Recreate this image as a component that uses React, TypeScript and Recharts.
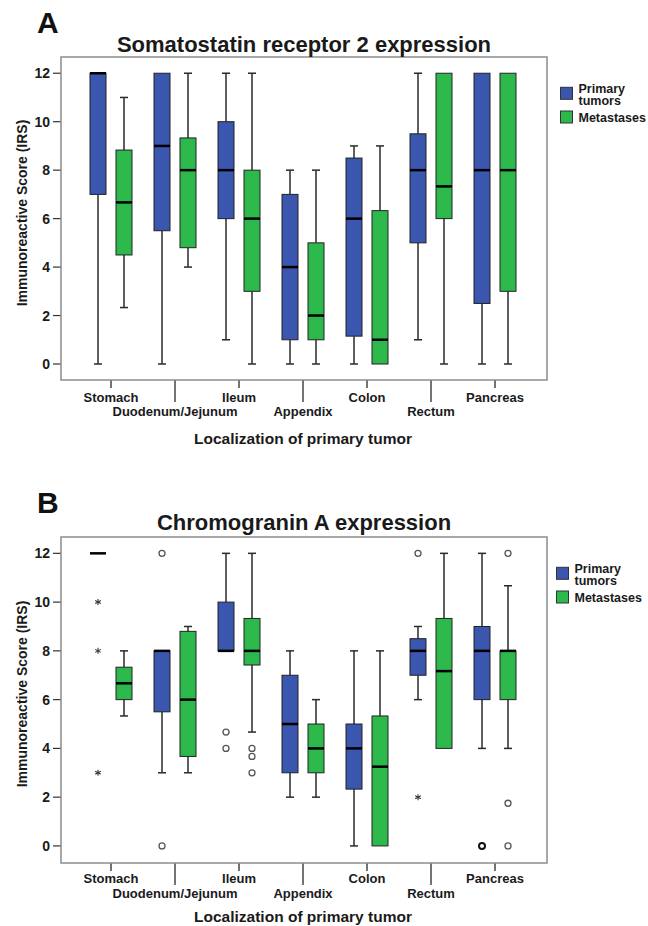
import React from "react";
import { ComposedChart, Bar, XAxis, YAxis, Legend } from "recharts";

const FONT = '"Liberation Sans", Arial, Helvetica, sans-serif';
const BLUE = "#3A56AE";
const GREEN = "#2DB84C";
const INK = "#1a1a1a";

const categories = ["Stomach", "Duodenum/Jejunum", "Ileum", "Appendix", "Colon", "Rectum", "Pancreas"];
const seriesNames = ["Primary tumors", "Metastases"];
const yTicks = [0, 2, 4, 6, 8, 10, 12];

// each entry: [min, q1, median, q3, max]
const sstrPrimary = [
  [0, 7, 12, 12, 12],
  [0, 5.5, 9, 12, 12],
  [1, 6, 8, 10, 12],
  [0, 1, 4, 7, 8],
  [0, 1.15, 6, 8.5, 9],
  [1, 5, 8, 9.5, 12],
  [0, 2.5, 8, 12, 12],
];
const sstrMetastases = [
  [2.33, 4.5, 6.67, 8.83, 11],
  [4, 4.8, 8, 9.33, 12],
  [0, 3, 6, 8, 12],
  [0, 1, 2, 5, 8],
  [0, 0, 1, 6.33, 9],
  [0, 6, 7.33, 12, 12],
  [0, 3, 8, 12, 12],
];
const sstrNone = [[], [], [], [], [], [], []];

const cgaPrimary = [
  [12, 12, 12, 12, 12],
  [3, 5.5, 8, 8, 8],
  [8, 8, 8, 10, 12],
  [2, 3, 5, 7, 8],
  [0, 2.33, 4, 5, 8],
  [6, 7, 8, 8.5, 9],
  [4, 6, 8, 9, 12],
];
const cgaPrimaryOutliers = [[], [12, 0], [4.67, 4], [], [], [12], [0]];
const cgaPrimaryExtremes = [[10, 8, 3], [], [], [], [], [2], []];
const cgaMetastases = [
  [5.33, 6, 6.67, 7.33, 8],
  [3, 3.67, 6, 8.8, 9],
  [4.67, 7.42, 8, 9.33, 12],
  [2, 3, 4, 5, 6],
  [0, 0, 3.25, 5.33, 8],
  [4, 4, 7.17, 9.33, 12],
  [4, 6, 8, 8, 10.67],
];
const cgaMetastasesOutliers = [[], [], [4, 3.67, 3], [], [], [], [12, 1.75, 0]];
const cgaMetastasesExtremes = [[], [], [], [], [], [], []];

function buildRows(p, m, pOut, pExt, mOut, mExt) {
  return categories.map((cat, i) => {
    const pAll = [...p[i], ...pOut[i], ...pExt[i]];
    const mAll = [...m[i], ...mOut[i], ...mExt[i]];
    return {
      cat,
      p: p[i], pOut: pOut[i], pExt: pExt[i],
      pRange: [Math.min(...pAll), Math.max(...pAll)],
      m: m[i], mOut: mOut[i], mExt: mExt[i],
      mRange: [Math.min(...mAll), Math.max(...mAll)],
    };
  });
}

const sstrRows = buildRows(sstrPrimary, sstrMetastases, sstrNone, sstrNone, sstrNone, sstrNone);
const cgaRows = buildRows(cgaPrimary, cgaMetastases, cgaPrimaryOutliers, cgaPrimaryExtremes, cgaMetastasesOutliers, cgaMetastasesExtremes);

// box + whiskers drawn inside the bar's [lo, hi] span given by the y scale
const makeBoxShape = (key: "p" | "m", fill: string) => (props: any) => {
  const { x, y, width, height, payload } = props;
  const stats = payload[key];
  const [lo, hi] = payload[key + "Range"];
  const top = Math.min(y, y + height);
  const h = Math.abs(height);
  const py = (v: number) => (hi === lo ? top : top + (h * (hi - v)) / (hi - lo));
  const cx = x + width / 2;
  const [mn, q1, med, q3, mx] = stats;
  const cap = 4;
  return (
    <g>
      <line x1={cx} x2={cx} y1={py(mx)} y2={py(q3)} stroke="#2a2a2a" strokeWidth={1.5} />
      <line x1={cx} x2={cx} y1={py(q1)} y2={py(mn)} stroke="#2a2a2a" strokeWidth={1.5} />
      {mx > q3 && <line x1={cx - cap} x2={cx + cap} y1={py(mx)} y2={py(mx)} stroke="#2a2a2a" strokeWidth={1.5} />}
      {mn < q1 && <line x1={cx - cap} x2={cx + cap} y1={py(mn)} y2={py(mn)} stroke="#2a2a2a" strokeWidth={1.5} />}
      <rect x={x} y={py(q3)} width={width} height={py(q1) - py(q3)} fill={fill} stroke="#222" strokeWidth={1} />
      <line x1={x} x2={x + width} y1={py(med)} y2={py(med)} stroke="#000" strokeWidth={2.5} />
      {payload[key + "Out"].map((v: number, i: number) => (
        <circle key={"o" + i} cx={cx} cy={py(v)} r={3} fill="none"
          stroke={key === "p" && v === 0 && payload.cat === "Pancreas" ? "#111" : "#555"}
          strokeWidth={key === "p" && v === 0 && payload.cat === "Pancreas" ? 2 : 1.3} />
      ))}
      {payload[key + "Ext"].map((v: number, i: number) => {
        const sy = py(v);
        return (
          <g key={"e" + i} stroke="#333" strokeWidth={1.1}>
            <line x1={cx} x2={cx} y1={sy - 3} y2={sy + 3} />
            <line x1={cx - 2.8} x2={cx + 2.8} y1={sy - 1.5} y2={sy + 1.5} />
            <line x1={cx - 2.8} x2={cx + 2.8} y1={sy + 1.5} y2={sy - 1.5} />
          </g>
        );
      })}
    </g>
  );
};

const primaryShape = makeBoxShape("p", BLUE);
const metaShape = makeBoxShape("m", GREEN);

function XTick(props: any) {
  const { x, y, payload, index, row1, row2 } = props;
  const even = index % 2 === 0;
  return (
    <g>
      <line x1={x} x2={x} y1={y} y2={y + (even ? 8 : 22)} stroke="#444" strokeWidth={1.5} />
      <text x={x} y={y + (even ? row1 : row2)} textAnchor="middle" fontSize={13} fontWeight={700} fill={INK} fontFamily={FONT}>
        {payload.value}
      </text>
    </g>
  );
}

function LegendBox() {
  return (
    <svg width={88} height={46} style={{ overflow: "visible" }}>
      <rect x={0.5} y={7.3} width={12} height={12} fill={BLUE} stroke="#333" strokeWidth={1} />
      <rect x={0.5} y={31} width={12} height={12} fill={GREEN} stroke="#333" strokeWidth={1} />
      <text x={18.5} y={12.5} fontSize={12.5} fontWeight={700} fill={INK} fontFamily={FONT}>Primary</text>
      <text x={18.5} y={25} fontSize={12.5} fontWeight={700} fill={INK} fontFamily={FONT}>tumors</text>
      <text x={18.5} y={41.5} fontSize={12.5} fontWeight={700} fill={INK} fontFamily={FONT}>{seriesNames[1]}</text>
    </svg>
  );
}

function Panel({ top, letter, title, rows, domain, chartH, titleY, xTitleY, yLabelY, legendX, row1, row2 }) {
  const plotLeft = 61;
  const plotTop = 57;
  const plotRight = 547;
  const plotBottom = chartH - 40;
  return (
    <div style={{ position: "absolute", left: 0, top, width: 648, height: 480 }}>
      <ComposedChart width={648} height={chartH} data={rows} margin={{ top: plotTop, right: 648 - plotRight, bottom: 0, left: 16 }} barSize={16} barGap={10}>
        <XAxis dataKey="cat" interval={0} tickLine={false} axisLine={false} tickSize={0} tickMargin={0} height={40}
          padding={{ left: 18, right: 20 }} tick={(p: any) => <XTick {...p} row1={row1} row2={row2} />} />
        <YAxis type="number" domain={domain} ticks={yTicks} width={45} axisLine={false} tickSize={8} tickMargin={3}
          tickLine={{ stroke: "#333", strokeWidth: 1.2 }}
          tick={{ fontSize: 14, fontWeight: 700, fill: INK, fontFamily: FONT }} />
        <Bar dataKey="pRange" name={seriesNames[0]} shape={primaryShape} isAnimationActive={false} />
        <Bar dataKey="mRange" name={seriesNames[1]} shape={metaShape} isAnimationActive={false} />
        <Legend layout="vertical" align="center" verticalAlign="middle" content={() => <LegendBox />}
          wrapperStyle={{ left: legendX, top: 80, width: 88, height: 46 }} />
      </ComposedChart>
      <svg width={648} height={480} style={{ position: "absolute", left: 0, top: 0, pointerEvents: "none" }} fontFamily={FONT}>
        <rect x={plotLeft} y={plotTop} width={plotRight - plotLeft} height={plotBottom - plotTop} fill="none" stroke="#8c8c8c" strokeWidth={1.5} />
        <text x={37} y={33} fontSize={30} fontWeight={700} fill="#111">{letter}</text>
        <text x={304} y={titleY} textAnchor="middle" fontSize={22} fontWeight={700} fill={INK}>{title}</text>
        <text x={303} y={xTitleY} textAnchor="middle" fontSize={15.5} fontWeight={700} fill={INK}>Localization of primary tumor</text>
        <text x={0} y={0} transform={`translate(22 ${yLabelY}) rotate(-90)`} textAnchor="middle" dominantBaseline="central"
          fontSize={14} fontWeight={700} fill={INK}>Immunoreactive Score (IRS)</text>
      </svg>
    </div>
  );
}

export default function App() {
  return (
    <div style={{ position: "absolute", left: 0, top: 0, width: 648, height: 926, background: "#fff", overflow: "hidden", fontFamily: FONT }}>
      <Panel top={0} letter="A" title="Somatostatin receptor 2 expression" rows={sstrRows} domain={[-0.66, 12.67]}
        chartH={420} titleY={52} xTitleY={444} yLabelY={213} legendX={560} row1={22} row2={36} />
      <Panel top={480} letter="B" title="Chromogranin A expression" rows={cgaRows} domain={[-0.7, 12.67]}
        chartH={423} titleY={50} xTitleY={442} yLabelY={214} legendX={556} row1={20} row2={35} />
    </div>
  );
}
